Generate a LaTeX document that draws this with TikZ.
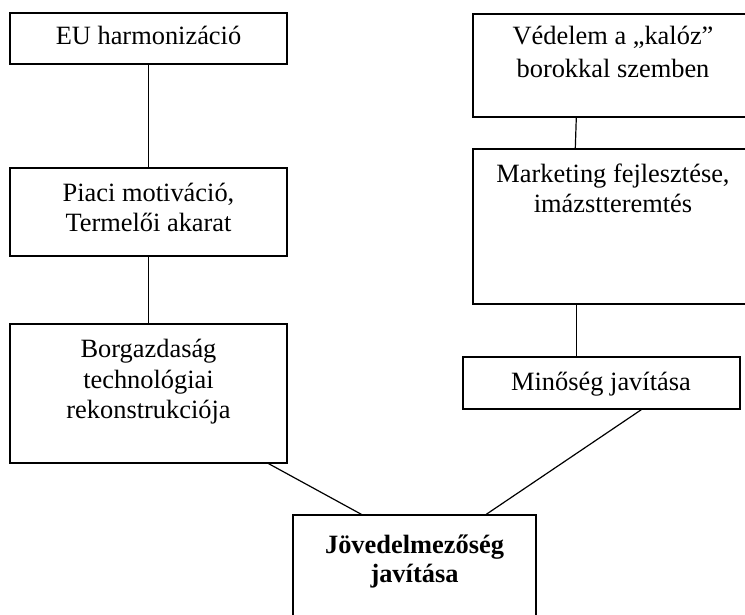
\documentclass[tikz,border=0pt]{standalone}
\usepackage{fontspec}
\setmainfont{Liberation Serif}
\usetikzlibrary{calc}
\begin{document}
\begin{tikzpicture}[x=1pt,y=-1pt,
  box/.style={draw,line width=1.4pt,rectangle,inner sep=0pt},
  txt/.style={anchor=base,inner sep=0pt,font=\fontsize{26.4}{31}\selectfont},
  btxt/.style={txt,font=\fontsize{26.4}{31}\selectfont\bfseries},
  conn/.style={line width=1.2pt}]
\clip (0,0) rectangle (745,615);
% boxes
\node[box,minimum width=277pt,minimum height=51pt]  (eu)  at (148.5,38.5) {};
\node[box,minimum width=277pt,minimum height=88pt]  (pm)  at (148.5,212) {};
\node[box,minimum width=277pt,minimum height=139pt] (bg)  at (148.5,393.5) {};
\node[box,minimum width=280pt,minimum height=103pt] (ved) at (613,65.5) {};
\node[box,minimum width=280pt,minimum height=155pt] (mk)  at (613,226.5) {};
\node[box,minimum width=277pt,minimum height=52pt]  (mj)  at (601.5,383) {};
\node[box,minimum width=243pt,minimum height=125pt] (jv)  at (414.5,577.5) {};
% texts
\node[txt] (eut)  at (148.5,45) {EU harmonizáció};
\node[txt] (pmt1) at (148.5,201) {Piaci motiváció,};
\node[txt] (pmt2) at (148.5,232) {Termelői akarat};
\node[txt] (bgt1) at (148.5,357) {Borgazdaság};
\node[txt] (bgt2) at (148.5,388) {technológiai};
\node[txt] (bgt3) at (148.5,418) {rekonstrukciója};
\node[txt] (vdt1) at (613,45) {Védelem a „kalóz”};
\node[txt] (vdt2) at (613,78) {borokkal szemben};
\node[txt] (mkt1) at (613,183) {Marketing fejlesztése,};
\node[txt] (mkt2) at (613,213) {imázstteremtés};
\node[txt] (mjt)  at (601,390) {Minőség javítása};
\node[btxt] (jvt1) at (414.5,553) {Jövedelmezőség};
\node[btxt] (jvt2) at (414.5,582) {javítása};
% connectors
\draw[conn] (eu.south) -- (pm.north);
\draw[conn] (pm.south) -- (bg.north);
\draw[conn] ($(ved.south west)+(104,0)$) -- ($(mk.north west)+(103,0)$);
\draw[conn] ($(mk.south west)+(104,0)$) -- ($(mj.north west)+(114,0)$);
\draw[conn] ($(bg.south east)+(-19,0)$) -- ($(jv.north west)+(69,0)$);
\draw[conn] ($(mj.south west)+(179,0)$) -- ($(jv.north west)+(194,0)$);
\end{tikzpicture}
\end{document}
